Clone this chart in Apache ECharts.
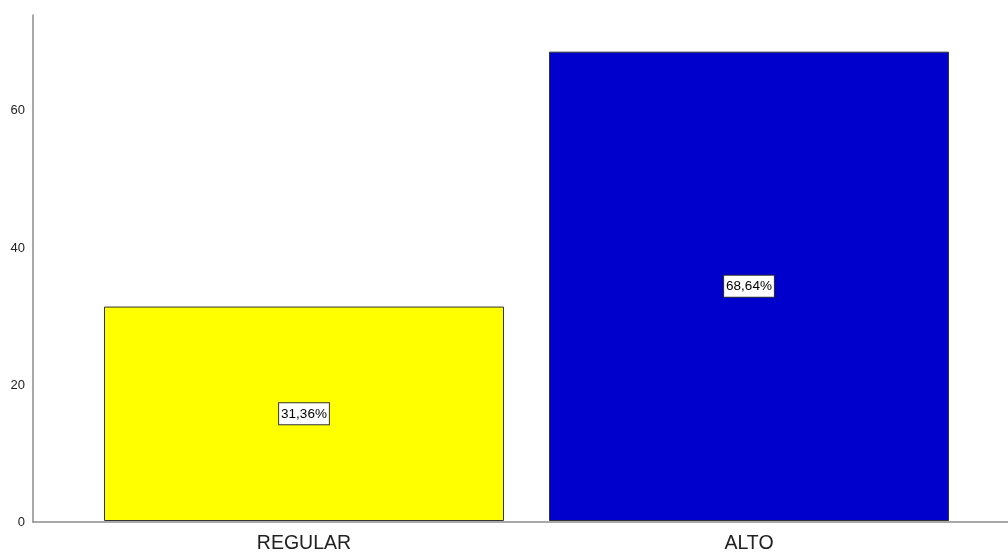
<!DOCTYPE html>
<html>
<head>
<meta charset="utf-8">
<script src="https://cdn.jsdelivr.net/npm/echarts@6/dist/echarts.min.js"></script>
<style>html,body{margin:0;padding:0;background:#fff;}#c{width:1008px;height:554px;}</style>
</head>
<body>
<div id="c"></div>
<script>
var categories = ['REGULAR', 'ALTO'];
var values = [31.36, 68.64];
var labels = ['31,36%', '68,64%'];
var colors = ['#ffff00', '#0000cc'];
var yTicks = [0, 20, 40, 60];

var Y_MAX = 74;
var chart = echarts.init(document.getElementById('c'), null, {renderer: 'canvas'});
chart.setOption({
  animation: false,
  backgroundColor: '#ffffff',
  grid: [
    {left: 33, right: 0, top: 15, bottom: 32},
    {left: 81.5, right: 36.5, top: 15, bottom: 32}
  ],
  xAxis: [
    {gridIndex: 0, type: 'value', min: 0, max: 1,
     axisLine: {show: true, lineStyle: {color: '#8c8c8c', width: 1.5}},
     axisTick: {show: false}, axisLabel: {show: false}, splitLine: {show: false}},
    {gridIndex: 1, type: 'category', data: categories,
     axisLine: {show: false}, axisTick: {show: false}, splitLine: {show: false},
     axisLabel: {color: '#222', fontSize: 19.5, fontFamily: 'Liberation Sans, Arial, sans-serif', margin: 13}}
  ],
  yAxis: [
    {gridIndex: 0, type: 'value', min: 0, max: Y_MAX, interval: 20,
     axisLine: {show: true, lineStyle: {color: '#8c8c8c', width: 1.5}},
     axisTick: {show: false}, splitLine: {show: false},
     axisLabel: {color: '#222', fontSize: 13, fontFamily: 'Liberation Sans, Arial, sans-serif', margin: 8,
       showMaxLabel: false,
       formatter: function (v) { return yTicks.indexOf(v) >= 0 ? String(v) : ''; }}},
    {gridIndex: 1, type: 'value', min: 0, max: Y_MAX, show: false}
  ],
  series: [{
    type: 'bar',
    xAxisIndex: 1, yAxisIndex: 1,
    barWidth: 400,
    data: values.map(function (v, i) {
      return {value: v, itemStyle: {color: colors[i], borderColor: '#333333', borderWidth: 1}};
    }),
    label: {
      show: true, position: 'inside',
      formatter: function (p) { return labels[p.dataIndex]; },
      color: '#000', fontSize: 13.5, fontFamily: 'Liberation Sans, Arial, sans-serif',
      backgroundColor: '#ffffff', borderColor: '#333333', borderWidth: 1,
      padding: [4, 2, 3, 2]
    }
  }]
});
</script>
</body>
</html>
